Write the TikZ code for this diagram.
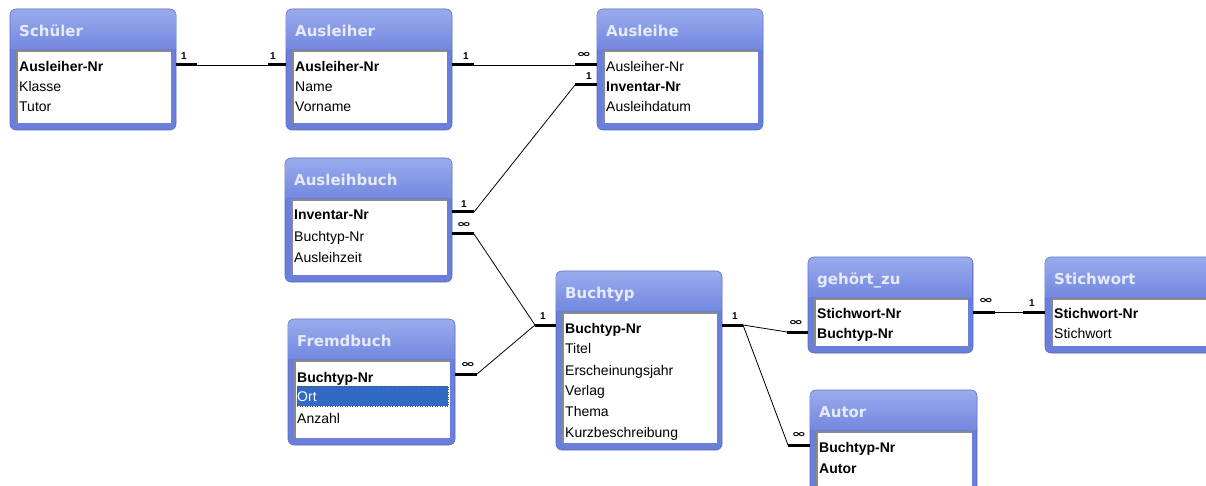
\documentclass[tikz,border=0pt]{standalone}
\usepackage{fontspec}
\setmainfont{Liberation Sans}
\newfontfamily\titlefont{DejaVu Sans}
\newfontfamily\symfont{DejaVu Sans}
\definecolor{frameblue}{HTML}{6A7EDB}
\definecolor{titletop}{HTML}{9AABEC}
\definecolor{titlebot}{HTML}{7388E0}
\definecolor{titletxt}{HTML}{E6EBFB}
\definecolor{insetgray}{HTML}{8A8A8A}
\definecolor{selblue}{HTML}{316AC5}
\tikzset{
  tframe/.style={draw=frameblue!85!black, line width=0.6pt, fill=frameblue, rounded corners=6pt, inner sep=0pt, outer sep=0pt, anchor=north west},
  tshade/.style={top color=titletop, bottom color=titlebot},
  ttext/.style={font=\titlefont\bfseries\fontsize{15}{18}\selectfont, text=titletxt, anchor=west, inner sep=0pt, text height=11pt, text depth=0pt},
  fld/.style={font=\fontsize{14}{16}\selectfont, anchor=west, inner sep=0pt, text height=11pt, text depth=1pt},
  key/.style={fld, font=\bfseries\fontsize{14}{16}\selectfont},
  insetline/.style={draw=insetgray, line width=1.2pt},
  stub/.style={line width=3pt},
  rel/.style={line width=0.8pt},
  card/.style={font=\bfseries\fontsize{10}{10}\selectfont, inner sep=0pt},
  inf/.style={font=\symfont\bfseries\fontsize{11}{11}\selectfont, inner sep=0pt},
}
\newcommand{\dbtable}[6]{%
  \node[tframe, minimum width=#4pt, minimum height=#5pt] (#1) at (#2,#3) {};
  \shade[tshade] ({#2+0.3},{#3+40}) [rounded corners=6pt] -- ({#2+0.3},{#3+0.3}) -- ({#2+#4-0.3},{#3+0.3}) [sharp corners] -- ({#2+#4-0.3},{#3+40}) -- cycle;
  \fill[white] ({#2+7},{#3+42}) rectangle ({#2+#4-5},{#3+#5-7});
  \draw[insetline] ({#2+7},{#3+#5-7}) -- ({#2+7},{#3+42}) -- ({#2+#4-5},{#3+42});
  \node[ttext] (#1-title) at ({#2+9},{#3+22}) {#6};
}
\newcommand{\infsym}{\scalebox{1.6}[0.9]{∞}}
\begin{document}
\begin{tikzpicture}[x=1pt,y=-1pt]
\useasboundingbox (0,0) rectangle (1206,486);
\clip (0,0) rectangle (1206,486);
\fill[white] (0,0) rectangle (1206,486);

% ---- tables
\dbtable{schueler}{10}{9}{166}{121}{Schüler}
\node[key] (s-r1) at (19,67) {Ausleiher-Nr};
\node[fld] (s-r2) at (19,87) {Klasse};
\node[fld] (s-r3) at (19,107) {Tutor};

\dbtable{ausleiher}{286}{9}{166}{121}{Ausleiher}
\node[key] (a-r1) at (295,67) {Ausleiher-Nr};
\node[fld] (a-r2) at (295,87) {Name};
\node[fld] (a-r3) at (295,107) {Vorname};

\dbtable{ausleihe}{597}{9}{166}{121}{Ausleihe}
\node[fld] (e-r1) at (606,67) {Ausleiher-Nr};
\node[key] (e-r2) at (606,87) {Inventar-Nr};
\node[fld] (e-r3) at (606,107) {Ausleihdatum};

\dbtable{ausleihbuch}{285}{158}{167}{124}{Ausleihbuch}
\node[key] (b-r1) at (294,215) {Inventar-Nr};
\node[fld] (b-r2) at (294,236) {Buchtyp-Nr};
\node[fld] (b-r3) at (294,257) {Ausleihzeit};

\dbtable{fremdbuch}{288}{319}{167}{126}{Fremdbuch}
\fill[selblue] (297,386) rectangle (448,406);
\draw[dotted, line width=0.5pt, black!70] (297,386) rectangle (448,406);
\node[key] (f-r1) at (297,377) {Buchtyp-Nr};
\node[fld, text=white] (f-r2) at (297,396) {Ort};
\node[fld] (f-r3) at (297,418) {Anzahl};

\dbtable{buchtyp}{556}{271}{166}{179}{Buchtyp}
\node[key] (t-r1) at (565,328) {Buchtyp-Nr};
\node[fld] (t-r2) at (565,348) {Titel};
\node[fld] (t-r3) at (565,370) {Erscheinungsjahr};
\node[fld] (t-r4) at (565,390) {Verlag};
\node[fld] (t-r5) at (565,411) {Thema};
\node[fld] (t-r6) at (565,432) {Kurzbeschreibung};

\dbtable{gehoert}{808}{257}{165}{96}{gehört\_zu}
\node[key] (g-r1) at (817,313) {Stichwort-Nr};
\node[key] (g-r2) at (817,333) {Buchtyp-Nr};

\dbtable{stichwort}{1045}{257}{175}{96}{Stichwort}
\node[key] (w-r1) at (1054,313) {Stichwort-Nr};
\node[fld] (w-r2) at (1054,333) {Stichwort};

\dbtable{autor}{810}{390}{167}{120}{Autor}
\node[key] (u-r1) at (819,447) {Buchtyp-Nr};
\node[key] (u-r2) at (819,468) {Autor};

% ---- connectors
% Schueler - Ausleiher
\coordinate (c1a) at (197,65);
\coordinate (c1b) at (268,65);
\draw[stub] (schueler.east |- c1a) -- (c1a);
\draw[rel] (c1a) -- (c1b);
\draw[stub] (c1b) -- (ausleiher.west |- c1b);
\node[card] (k1a) at (184,56) {1};
\node[card] (k1b) at (273,56) {1};

% Ausleiher - Ausleihe
\coordinate (c2a) at (474,65);
\coordinate (c2b) at (575,65);
\draw[stub] (ausleiher.east |- c2a) -- (c2a);
\draw[rel] (c2a) -- (c2b);
\draw[stub] (c2b) -- (ausleihe.west |- c2b);
\node[card] (k2a) at (466,56) {1};
\node[inf] (k2b) at (584,55) {\infsym};

% Ausleihbuch - Ausleihe
\coordinate (c3a) at (474,212);
\coordinate (c3b) at (575,85);
\draw[stub] (ausleihbuch.east |- c3a) -- (c3a);
\draw[rel] (c3a) -- (c3b);
\draw[stub] (c3b) -- (ausleihe.west |- c3b);
\node[card] (k3a) at (464,204) {1};
\node[card] (k3b) at (589,76) {1};

% Ausleihbuch - Buchtyp
\coordinate (c4a) at (474,234);
\coordinate (c4b) at (535,325);
\draw[stub] (ausleihbuch.east |- c4a) -- (c4a);
\draw[rel] (c4a) -- (c4b);
\draw[stub] (c4b) -- (buchtyp.west |- c4b);
\node[inf] (k4a) at (464,225) {\infsym};
\node[card] (k4b) at (543,316) {1};

% Fremdbuch - Buchtyp
\coordinate (c5a) at (477,374);
\draw[stub] (fremdbuch.east |- c5a) -- (c5a);
\draw[rel] (c5a) -- (c4b);
\node[inf] (k5a) at (468,365) {\infsym};

% Buchtyp - gehoert_zu
\coordinate (c6a) at (743,325);
\coordinate (c6b) at (787,332);
\draw[stub] (buchtyp.east |- c6a) -- (c6a);
\draw[rel] (c6a) -- (c6b);
\draw[stub] (c6b) -- (gehoert.west |- c6b);
\node[card] (k6a) at (735,316) {1};
\node[inf] (k6b) at (796,323) {\infsym};

% Buchtyp - Autor
\coordinate (c7b) at (788,445);
\draw[rel] (c6a) -- (c7b);
\draw[stub] (c7b) -- (autor.west |- c7b);
\node[inf] (k7b) at (799,435) {\infsym};

% gehoert_zu - Stichwort
\coordinate (c8a) at (995,312);
\coordinate (c8b) at (1023,312);
\draw[stub] (gehoert.east |- c8a) -- (c8a);
\draw[rel] (c8a) -- (c8b);
\draw[stub] (c8b) -- (stichwort.west |- c8b);
\node[inf] (k8a) at (986,301) {\infsym};
\node[card] (k8b) at (1032,303) {1};
\end{tikzpicture}
\end{document}
